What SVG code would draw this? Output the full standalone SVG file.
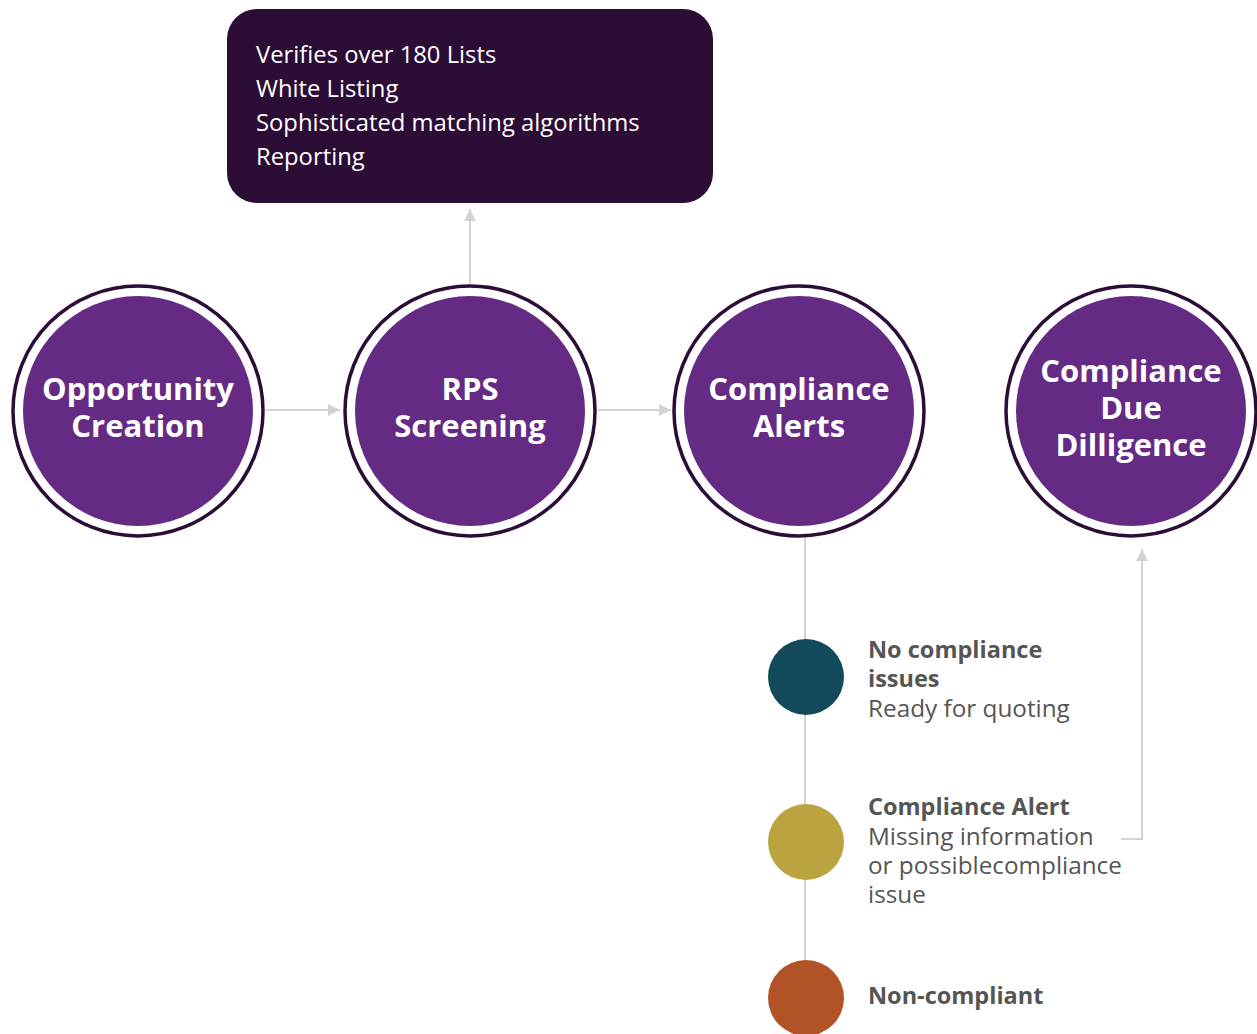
<svg xmlns="http://www.w3.org/2000/svg" width="1257" height="1034" viewBox="0 0 1257 1034">
<style>
.ring{fill:#ffffff;stroke:#2b0d36;stroke-width:3.5}
.core{fill:#652a83}
.title{font-family:"Open Sans","Noto Sans","Liberation Sans",sans-serif;font-weight:700;font-size:31px;fill:#ffffff;text-anchor:middle}
.box{font-family:"Open Sans","Noto Sans","Liberation Sans",sans-serif;font-size:23.8px;fill:#ffffff}
.lbl{font-family:"Open Sans","Noto Sans","Liberation Sans",sans-serif;font-size:24.3px;fill:#555555}
.b{font-weight:700;font-size:23.5px}
.conn{fill:none;stroke:#d3d3d3;stroke-width:2}
</style>
<defs>
<marker id="ah" viewBox="0 0 10 10" refX="10" refY="5" markerWidth="12" markerHeight="12" markerUnits="userSpaceOnUse" orient="auto">
<path d="M0,0 L10,5 L0,10 z" fill="#d3d3d3"/>
</marker>
</defs>
<g id="connectors">
<line class="conn" x1="266" y1="410" x2="340" y2="410" marker-end="url(#ah)"/>
<line class="conn" x1="598" y1="410" x2="671" y2="410" marker-end="url(#ah)"/>
<line class="conn" x1="470" y1="284" x2="470" y2="209" marker-end="url(#ah)"/>
<line class="conn" x1="805" y1="537" x2="805" y2="1034"/>
<polyline class="conn" points="1121,839 1142,839 1142,549" marker-end="url(#ah)"/>
</g>
<g id="info-box">
<rect x="227" y="9" width="486" height="194" rx="30" fill="#2b0d36"/>
<text class="box" x="256" y="63">Verifies over 180 Lists</text>
<text class="box" x="256" y="97">White Listing</text>
<text class="box" x="256" y="131">Sophisticated matching algorithms</text>
<text class="box" x="256" y="165">Reporting</text>
</g>
<g id="opportunity-creation">
<circle class="ring" cx="138" cy="411" r="125"/>
<circle class="core" cx="138" cy="411" r="115"/>
<text class="title" x="138" y="400">Opportunity</text>
<text class="title" x="138" y="437">Creation</text>
</g>
<g id="rps-screening">
<circle class="ring" cx="470" cy="411" r="125"/>
<circle class="core" cx="470" cy="411" r="115"/>
<text class="title" x="470" y="400">RPS</text>
<text class="title" x="470" y="437">Screening</text>
</g>
<g id="compliance-alerts">
<circle class="ring" cx="799" cy="411" r="125"/>
<circle class="core" cx="799" cy="411" r="115"/>
<text class="title" x="799" y="400">Compliance</text>
<text class="title" x="799" y="437">Alerts</text>
</g>
<g id="compliance-due-dilligence">
<circle class="ring" cx="1131" cy="411" r="125"/>
<circle class="core" cx="1131" cy="411" r="115"/>
<text class="title" x="1131" y="382">Compliance</text>
<text class="title" x="1131" y="419">Due</text>
<text class="title" x="1131" y="456">Dilligence</text>
</g>
<g id="no-compliance-issues">
<circle cx="806" cy="677" r="38" fill="#134a5b"/>
<text class="lbl b" x="868" y="658">No compliance</text>
<text class="lbl b" x="868" y="687">issues</text>
<text class="lbl" x="868" y="717">Ready for quoting</text>
</g>
<g id="compliance-alert">
<circle cx="806" cy="842" r="38" fill="#bba43f"/>
<text class="lbl b" x="868" y="815">Compliance Alert</text>
<text class="lbl" x="868" y="845">Missing information</text>
<text class="lbl" x="868" y="874">or possiblecompliance</text>
<text class="lbl" x="868" y="903">issue</text>
</g>
<g id="non-compliant">
<circle cx="806" cy="998" r="38" fill="#b25327"/>
<text class="lbl b" x="868" y="1004">Non-compliant</text>
</g>
</svg>
